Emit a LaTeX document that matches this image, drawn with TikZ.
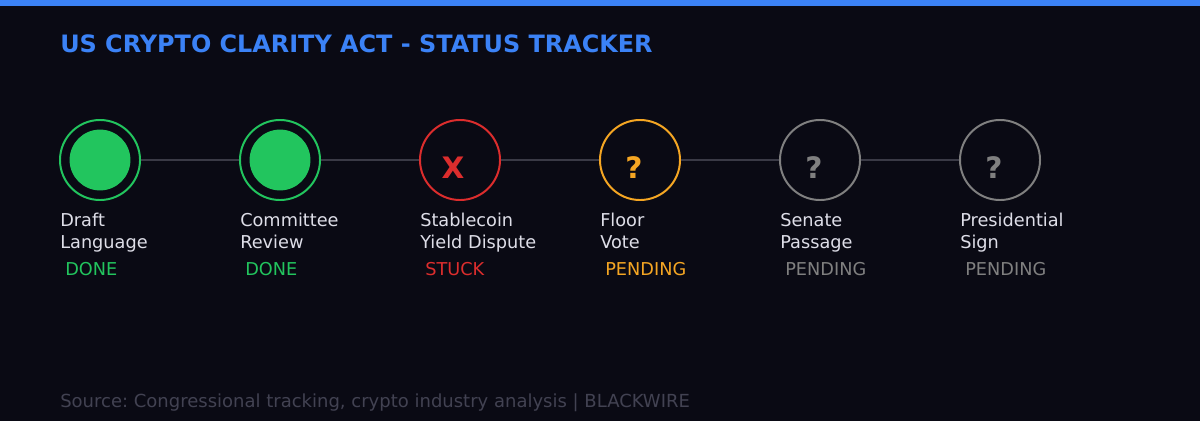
\documentclass[tikz,border=0pt]{standalone}
\usepackage{fontspec}
\setmainfont{DejaVu Sans}
\usepackage{xcolor}
\usepackage{tikz}
\usetikzlibrary{positioning, calc}
\definecolor{night}{RGB}{10,10,20}
\definecolor{royal}{RGB}{59,130,246}
\definecolor{emerald}{RGB}{34,197,94}
\definecolor{crimson}{RGB}{220,45,45}
\definecolor{amber}{RGB}{245,166,35}
\definecolor{ash}{RGB}{128,128,128}
\definecolor{ink}{RGB}{222,222,232}
\definecolor{wire}{RGB}{58,58,70}
\definecolor{dim}{RGB}{66,66,82}
\frenchspacing

\begin{document}
\begin{tikzpicture}[
    x=0.025cm, y=-0.025cm,
    ring/.style={circle, draw, line width=1.4pt, minimum size=2cm, inner sep=0pt},
    core/.style={circle, fill=emerald, minimum size=1.52cm, inner sep=0pt},
    sym/.style={font=\fontsize{21}{21}\selectfont\bfseries, inner sep=0pt},
    lbl/.style={anchor=north west, align=left, inner sep=0pt, text=ink, font=\fontsize{12.6}{15.6}\selectfont},
    tag/.style={anchor=base west, inner sep=0pt, font=\fontsize{12.6}{15.6}\selectfont},
    link/.style={draw=wire, line width=1.4pt}
]
\useasboundingbox (0,0) rectangle (1200,420);
\fill[night] (-10,-10) rectangle (1210,430);
\fill[royal] (-10,-10) rectangle (1210,6);

% Title
\node[anchor=base west, inner sep=0pt, text=royal, font=\fontsize{17}{20}\selectfont\bfseries] (title) at (60,53) {US CRYPTO CLARITY ACT - STATUS TRACKER};

% Stages
\node[ring, draw=emerald] (draft) at (100,160) {};
\node[ring, draw=emerald] (review) at (280,160) {};
\node[ring, draw=crimson] (yield) at (460,160) {};
\node[ring, draw=amber] (floor) at (640,160) {};
\node[ring, draw=ash] (senate) at (820,160) {};
\node[ring, draw=ash] (sign) at (1000,160) {};

% Marks
\node[core] (draftcore) at (draft) {};
\node[core] (reviewcore) at (review) {};
\node[sym, text=crimson] (yieldmark) at (453,168) {X};
\node[sym, text=amber] (floormark) at (634,168) {?};
\node[sym, text=ash] (senatemark) at (814,168) {?};
\node[sym, text=ash] (signmark) at (994,168) {?};

% Connectors
\draw[link] (draft) -- (review);
\draw[link] (review) -- (yield);
\draw[link] (yield) -- (floor);
\draw[link] (floor) -- (senate);
\draw[link] (senate) -- (sign);

% Labels
\node[lbl] (draftlbl) at (60,213) {Draft\\Language};
\node[lbl] (reviewlbl) at (240,213) {Committee\\Review};
\node[lbl] (yieldlbl) at (420,213) {Stablecoin\\Yield Dispute};
\node[lbl] (floorlbl) at (600,213) {Floor\\Vote};
\node[lbl] (senatelbl) at (780,213) {Senate\\Passage};
\node[lbl] (signlbl) at (960,213) {Presidential\\Sign};

% Status
\node[tag, text=emerald] (draftstat) at (65,275) {DONE};
\node[tag, text=emerald] (reviewstat) at (245,275) {DONE};
\node[tag, text=crimson] (yieldstat) at (425,275) {STUCK};
\node[tag, text=amber] (floorstat) at (605,275) {PENDING};
\node[tag, text=ash] (senatestat) at (785,275) {PENDING};
\node[tag, text=ash] (signstat) at (965,275) {PENDING};

% Footer
\node[anchor=base west, inner sep=0pt, text=dim, font=\fontsize{12.8}{15}\selectfont] (source) at (60,407) {Source: Congressional tracking, crypto industry analysis | BLACKWIRE};

\end{tikzpicture}
\end{document}
